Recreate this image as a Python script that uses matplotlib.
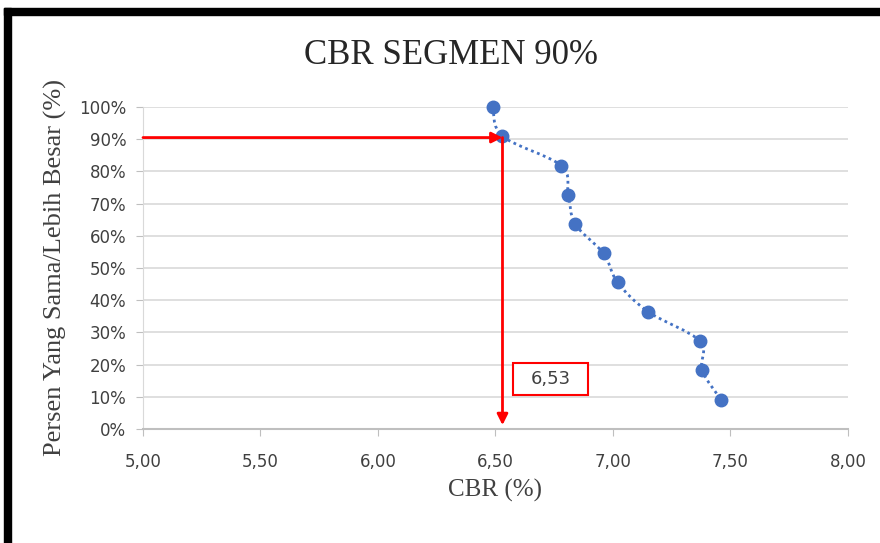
import numpy as np
import matplotlib
matplotlib.use('Agg')
import matplotlib.pyplot as plt
from matplotlib.path import Path
from matplotlib.patches import PathPatch, Rectangle
from matplotlib.ticker import FuncFormatter, MultipleLocator

# data
cbr = [6.49, 6.53, 6.78, 6.81, 6.84, 6.96, 7.02, 7.15, 7.37, 7.38, 7.46]
persen = [1.000, 0.909, 0.818, 0.727, 0.636, 0.545, 0.455, 0.364, 0.273, 0.182, 0.091]
cbr_90 = 6.53
label_90 = '6,53'

blue = '#4472C4'
red = '#FF0000'

fig = plt.figure(figsize=(8.8, 5.43), dpi=100)
ax = fig.add_axes([0.1625, 0.210, 0.801, 0.593])

# smoothed dotted line (bezier through the points, like excel's smoothed line)
pts = np.column_stack([cbr, persen])
verts = [pts[0]]
codes = [Path.MOVETO]
for i in range(len(pts) - 1):
    p0 = pts[i - 1] if i > 0 else pts[i]
    p1 = pts[i]
    p2 = pts[i + 1]
    p3 = pts[i + 2] if i + 2 < len(pts) else pts[i + 1]
    c1 = p1 + (p2 - p0) / 6
    c2 = p2 - (p3 - p1) / 6
    verts += [c1, c2, p2]
    codes += [Path.CURVE4] * 3
ax.add_patch(PathPatch(Path(verts, codes), fill=False, edgecolor=blue,
                       lw=2, linestyle=(0, (1, 1.3)), zorder=3))
ax.plot(cbr, persen, 'o', color=blue, markersize=9, zorder=4, clip_on=False)

# red arrows for 90%
ax.annotate('', xy=(cbr_90, 0.905), xytext=(5.0, 0.905),
            arrowprops=dict(arrowstyle='-|>', color=red, lw=2,
                            mutation_scale=16, shrinkA=0, shrinkB=0), zorder=5)
ax.annotate('', xy=(cbr_90, 0.012), xytext=(cbr_90, 0.905),
            arrowprops=dict(arrowstyle='-|>', color=red, lw=2,
                            mutation_scale=16, shrinkA=0, shrinkB=0), zorder=5)
ax.add_patch(Rectangle((6.574, 0.105), 0.32, 0.099, fc='white', ec=red,
                       lw=1.5, zorder=5))
ax.text(6.734, 0.155, label_90, ha='center', va='center', fontsize=13,
        family='DejaVu Sans', color='#404040', zorder=6)

ax.set_xlim(5, 8)
ax.set_ylim(0, 1)
ax.xaxis.set_major_locator(MultipleLocator(0.5))
ax.yaxis.set_major_locator(MultipleLocator(0.1))
ax.xaxis.set_major_formatter(FuncFormatter(lambda v, p: f'{v:.2f}'.replace('.', ',')))
ax.yaxis.set_major_formatter(FuncFormatter(lambda v, p: f'{v*100:.0f}%'))
ax.grid(axis='y', color='#d9d9d9', lw=1.2)
ax.set_axisbelow(True)
for s in ['top', 'right']:
    ax.spines[s].set_visible(False)
ax.spines['bottom'].set_color('#bfbfbf')
ax.spines['bottom'].set_linewidth(1.5)
ax.spines['left'].set_color('#d9d9d9')
ax.tick_params(axis='both', colors='#bfbfbf', labelcolor='#404040',
               labelsize=12, length=5)
ax.tick_params(axis='x', pad=12)
ax.tick_params(axis='y', pad=7)
for lab in ax.get_xticklabels() + ax.get_yticklabels():
    lab.set_family(['Liberation Sans Narrow', 'DejaVu Sans'])

fig.text(451 / 880, 1 - 55 / 543, 'CBR SEGMEN 90%', family='Liberation Serif',
         fontsize=25, color='#262626', ha='center', va='center')
ax.set_xlabel('CBR (%)', family='Liberation Serif', fontsize=18,
              color='#404040', labelpad=6)
ax.set_ylabel('Persen Yang Sama/Lebih Besar (%)', family='Liberation Serif',
              fontsize=19, color='#404040', labelpad=9)

# black frame at top and left edge
fig.patches.append(Rectangle((4 / 880, 0), 7 / 880, 1 - 8 / 543,
                             transform=fig.transFigure, color='black'))
fig.patches.append(Rectangle((4 / 880, 1 - 15 / 543), 1, 7 / 543,
                             transform=fig.transFigure, color='black'))

fig.savefig('out.png', dpi=100)
